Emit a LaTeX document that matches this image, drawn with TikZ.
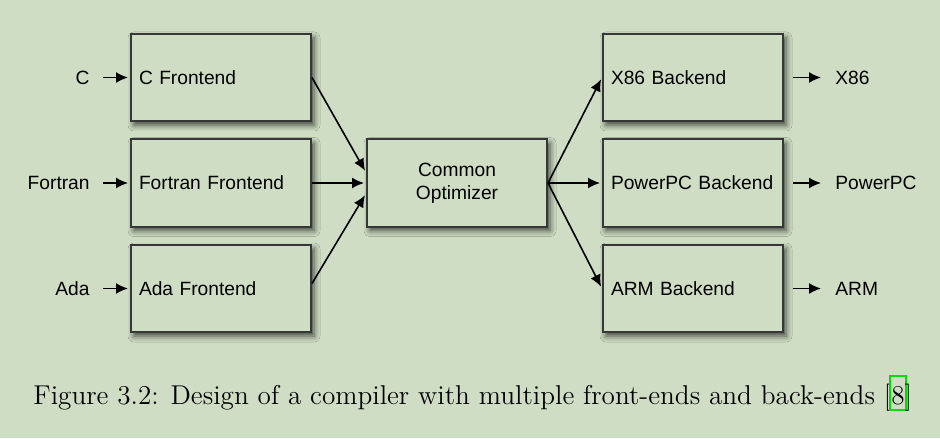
\documentclass[tikz,border=0pt]{standalone}
\usepackage{fontspec}
\setsansfont{Liberation Sans}
\usetikzlibrary{positioning,arrows.meta,shadows.blur}
\definecolor{paper}{RGB}{206,221,195}
\definecolor{edge}{RGB}{55,55,55}
\definecolor{linkgreen}{RGB}{0,221,0}
\tikzstyle{block} = [rectangle, draw=edge, line width=1pt, fill=paper,
    text width=82pt, align=left, inner sep=4pt, minimum height=43.5pt,
    font=\sffamily\fontsize{9.6}{11.5}\selectfont,
    blur shadow={shadow xshift=1.5pt, shadow yshift=-2pt, shadow blur radius=3pt, shadow opacity=70}]
\tikzstyle{lang} = [inner sep=2pt, font=\sffamily\fontsize{9.6}{11.5}\selectfont]
\tikzstyle{line} = [draw, line width=0.8pt, shorten >=1pt, -{Latex[length=6pt,width=5.5pt]}]
\newcommand{\linkbox}[1]{\hspace{-1pt}{\setlength{\fboxsep}{0pt}\setlength{\fboxrule}{1pt}%
    \fcolorbox{linkgreen}{paper}{\rule[-2.5pt]{0pt}{16pt}#1}}\hspace{-1pt}}

\begin{document}
\begin{tikzpicture}[x=0.5pt, y=-0.5pt, node distance=118pt]
	\fill [paper] (0,0) rectangle (940,438);
	\useasboundingbox (0,0) rectangle (940,438);

		\node [block, align=center] (optimizer) at (457,183) {Common\\Optimizer};
	
		\node [block, left of=optimizer] (fortran) {Fortran Frontend};
		\node [block, above of=fortran, node distance=52.75pt] (cfront) {C Frontend};
		\node [block, below of=fortran, node distance=52.75pt] (ada) {Ada Frontend};
	
		\node [block, right of=optimizer] (powerpc) {PowerPC Backend};
		\node [block, above of=powerpc, node distance=52.75pt] (x86) {X86 Backend};
		\node [block, below of=powerpc, node distance=52.75pt] (arm) {ARM Backend};
	
		\path [line] (cfront.east) -- ([yshift=5.25pt]optimizer.west);
		\path [line] (fortran.east) -- (optimizer.west);
		\path [line] ([yshift=2.5pt]ada.east) -- ([yshift=-5.25pt]optimizer.west);
	
		\path [line] (optimizer.east) -- (x86.west);
		\path [line] (optimizer.east) -- (powerpc.west);
		\path [line] (optimizer.east) -- (arm.west);
		
		% languages in
		\node [lang, left=18pt of cfront] (c) {C};
		\node [lang, left=18pt of fortran] (fortranin) {Fortran};
		\node [lang, left=18pt of ada] (adain) {Ada};
	
		\path [line, shorten <=4.5pt] (c) -- (cfront);
		\path [line, shorten <=4.5pt] (fortranin) -- (fortran);
		\path [line, shorten <=4.5pt] (adain) -- (ada);
		
		% targets out
		\node [lang, right=23.5pt of x86] (x86out) {X86};
		\node [lang, right=23.5pt of powerpc] (powerpcout) {PowerPC};
		\node [lang, right=23.5pt of arm] (armout) {ARM};
	
		\path [line, shorten <=4.5pt, shorten >=5pt] (x86) -- (x86out);
		\path [line, shorten <=4.5pt, shorten >=5pt] (powerpc) -- (powerpcout);
		\path [line, shorten <=4.5pt, shorten >=5pt] (arm) -- (armout);
	
		\node [anchor=base west, inner sep=0pt, font=\fontsize{13.6}{16}\selectfont] (caption) at (33,404)
			{Figure 3.2: Design of a compiler with multiple front-ends and back-ends [\linkbox{8}]};
	\end{tikzpicture}
\end{document}
